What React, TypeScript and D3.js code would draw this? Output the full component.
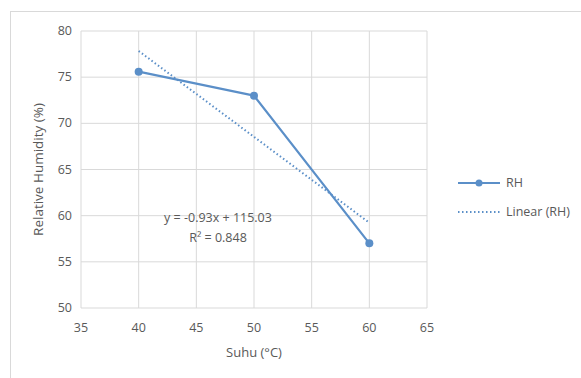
import React from "react";
import * as d3 from "d3";

const temps = [40, 50, 60];
const rhValues = [75.6, 73.0, 57.0];
const xTicks = [35, 40, 45, 50, 55, 60, 65];
const yTicks = [50, 55, 60, 65, 70, 75, 80];
const equationLines = ["y = -0.93x + 115.03", "R² = 0.848"];
const seriesName = "RH";
const trendName = "Linear (RH)";
const xTitle = "Suhu (°C)";
const yTitle = "Relative Humidity (%)";

const W = 581;
const H = 378;
const M = { left: 81, right: 427, top: 31, bottom: 308 };
const FONT = "'Open Sans', 'Noto Sans', sans-serif";
const TEXT = "#595959";
const GRID = "#d9d9d9";
const BLUE = "#5b8fc8";

export default function App() {
  const x = d3.scaleLinear().domain([35, 65]).range([M.left, M.right]);
  const y = d3.scaleLinear().domain([50, 80]).range([M.bottom, M.top]);

  const n = temps.length;
  const mx = d3.mean(temps)!;
  const my = d3.mean(rhValues)!;
  let sxy = 0, sxx = 0;
  for (let i = 0; i < n; i++) {
    sxy += (temps[i] - mx) * (rhValues[i] - my);
    sxx += (temps[i] - mx) ** 2;
  }
  const slope = sxy / sxx;
  const intercept = my - slope * mx;
  const x0 = d3.min(temps)!;
  const x1 = d3.max(temps)!;

  const line = d3
    .line<number>()
    .x((_, i) => x(temps[i]))
    .y((d) => y(d));

  return (
    <svg
      width={W}
      height={H}
      style={{ position: "absolute", left: 0, top: 0, background: "#fff" }}
      fontFamily={FONT}
    >
      <rect x={10.5} y={11.5} width={W} height={H} fill="#fff" stroke="#d9d9d9" strokeWidth={1} />
      {xTicks.map((t) => (
        <line key={"gx" + t} x1={x(t)} x2={x(t)} y1={M.top} y2={M.bottom} stroke={GRID} strokeWidth={1} />
      ))}
      {yTicks.map((t) => (
        <line key={"gy" + t} x1={M.left} x2={M.right} y1={y(t)} y2={y(t)} stroke={GRID} strokeWidth={1} />
      ))}
      {xTicks.map((t) => (
        <text key={"tx" + t} x={x(t)} y={332} textAnchor="middle" fontSize={12.5} fill={TEXT}>
          {t}
        </text>
      ))}
      {yTicks.map((t) => (
        <text key={"ty" + t} x={M.left - 9} y={y(t) + 4} textAnchor="end" fontSize={12.5} fill={TEXT}>
          {t}
        </text>
      ))}
      <text x={(M.left + M.right) / 2} y={357} textAnchor="middle" fontSize={13} fill={TEXT}>
        {xTitle}
      </text>
      <text
        transform={`translate(43, ${(M.top + M.bottom) / 2}) rotate(-90)`}
        textAnchor="middle"
        fontSize={13.5}
        fill={TEXT}
      >
        {yTitle}
      </text>

      <path d={line(rhValues) || ""} fill="none" stroke={BLUE} strokeWidth={2.2} strokeLinejoin="round" />
      <line
        x1={x(x0)}
        y1={y(slope * x0 + intercept)}
        x2={x(x1)}
        y2={y(slope * x1 + intercept)}
        stroke={BLUE}
        strokeWidth={2}
        strokeDasharray="1.5,2.5"
      />
      {rhValues.map((v, i) => (
        <circle key={"p" + i} cx={x(temps[i])} cy={y(v)} r={4} fill={BLUE} />
      ))}

      {equationLines.map((s, i) => (
        <text key={"eq" + i} x={218} y={222 + i * 20} textAnchor="middle" fontSize={12.5} fill={TEXT}>
          {s}
        </text>
      ))}

      <line x1={458} x2={500} y1={183} y2={183} stroke={BLUE} strokeWidth={2.2} />
      <circle cx={479} cy={183} r={3.5} fill={BLUE} />
      <text x={506} y={187} fontSize={12.5} fill={TEXT}>
        {seriesName}
      </text>
      <line x1={458} x2={500} y1={212} y2={212} stroke={BLUE} strokeWidth={2} strokeDasharray="1.5,2.5" />
      <text x={506} y={216} fontSize={12.5} fill={TEXT}>
        {trendName}
      </text>
    </svg>
  );
}
